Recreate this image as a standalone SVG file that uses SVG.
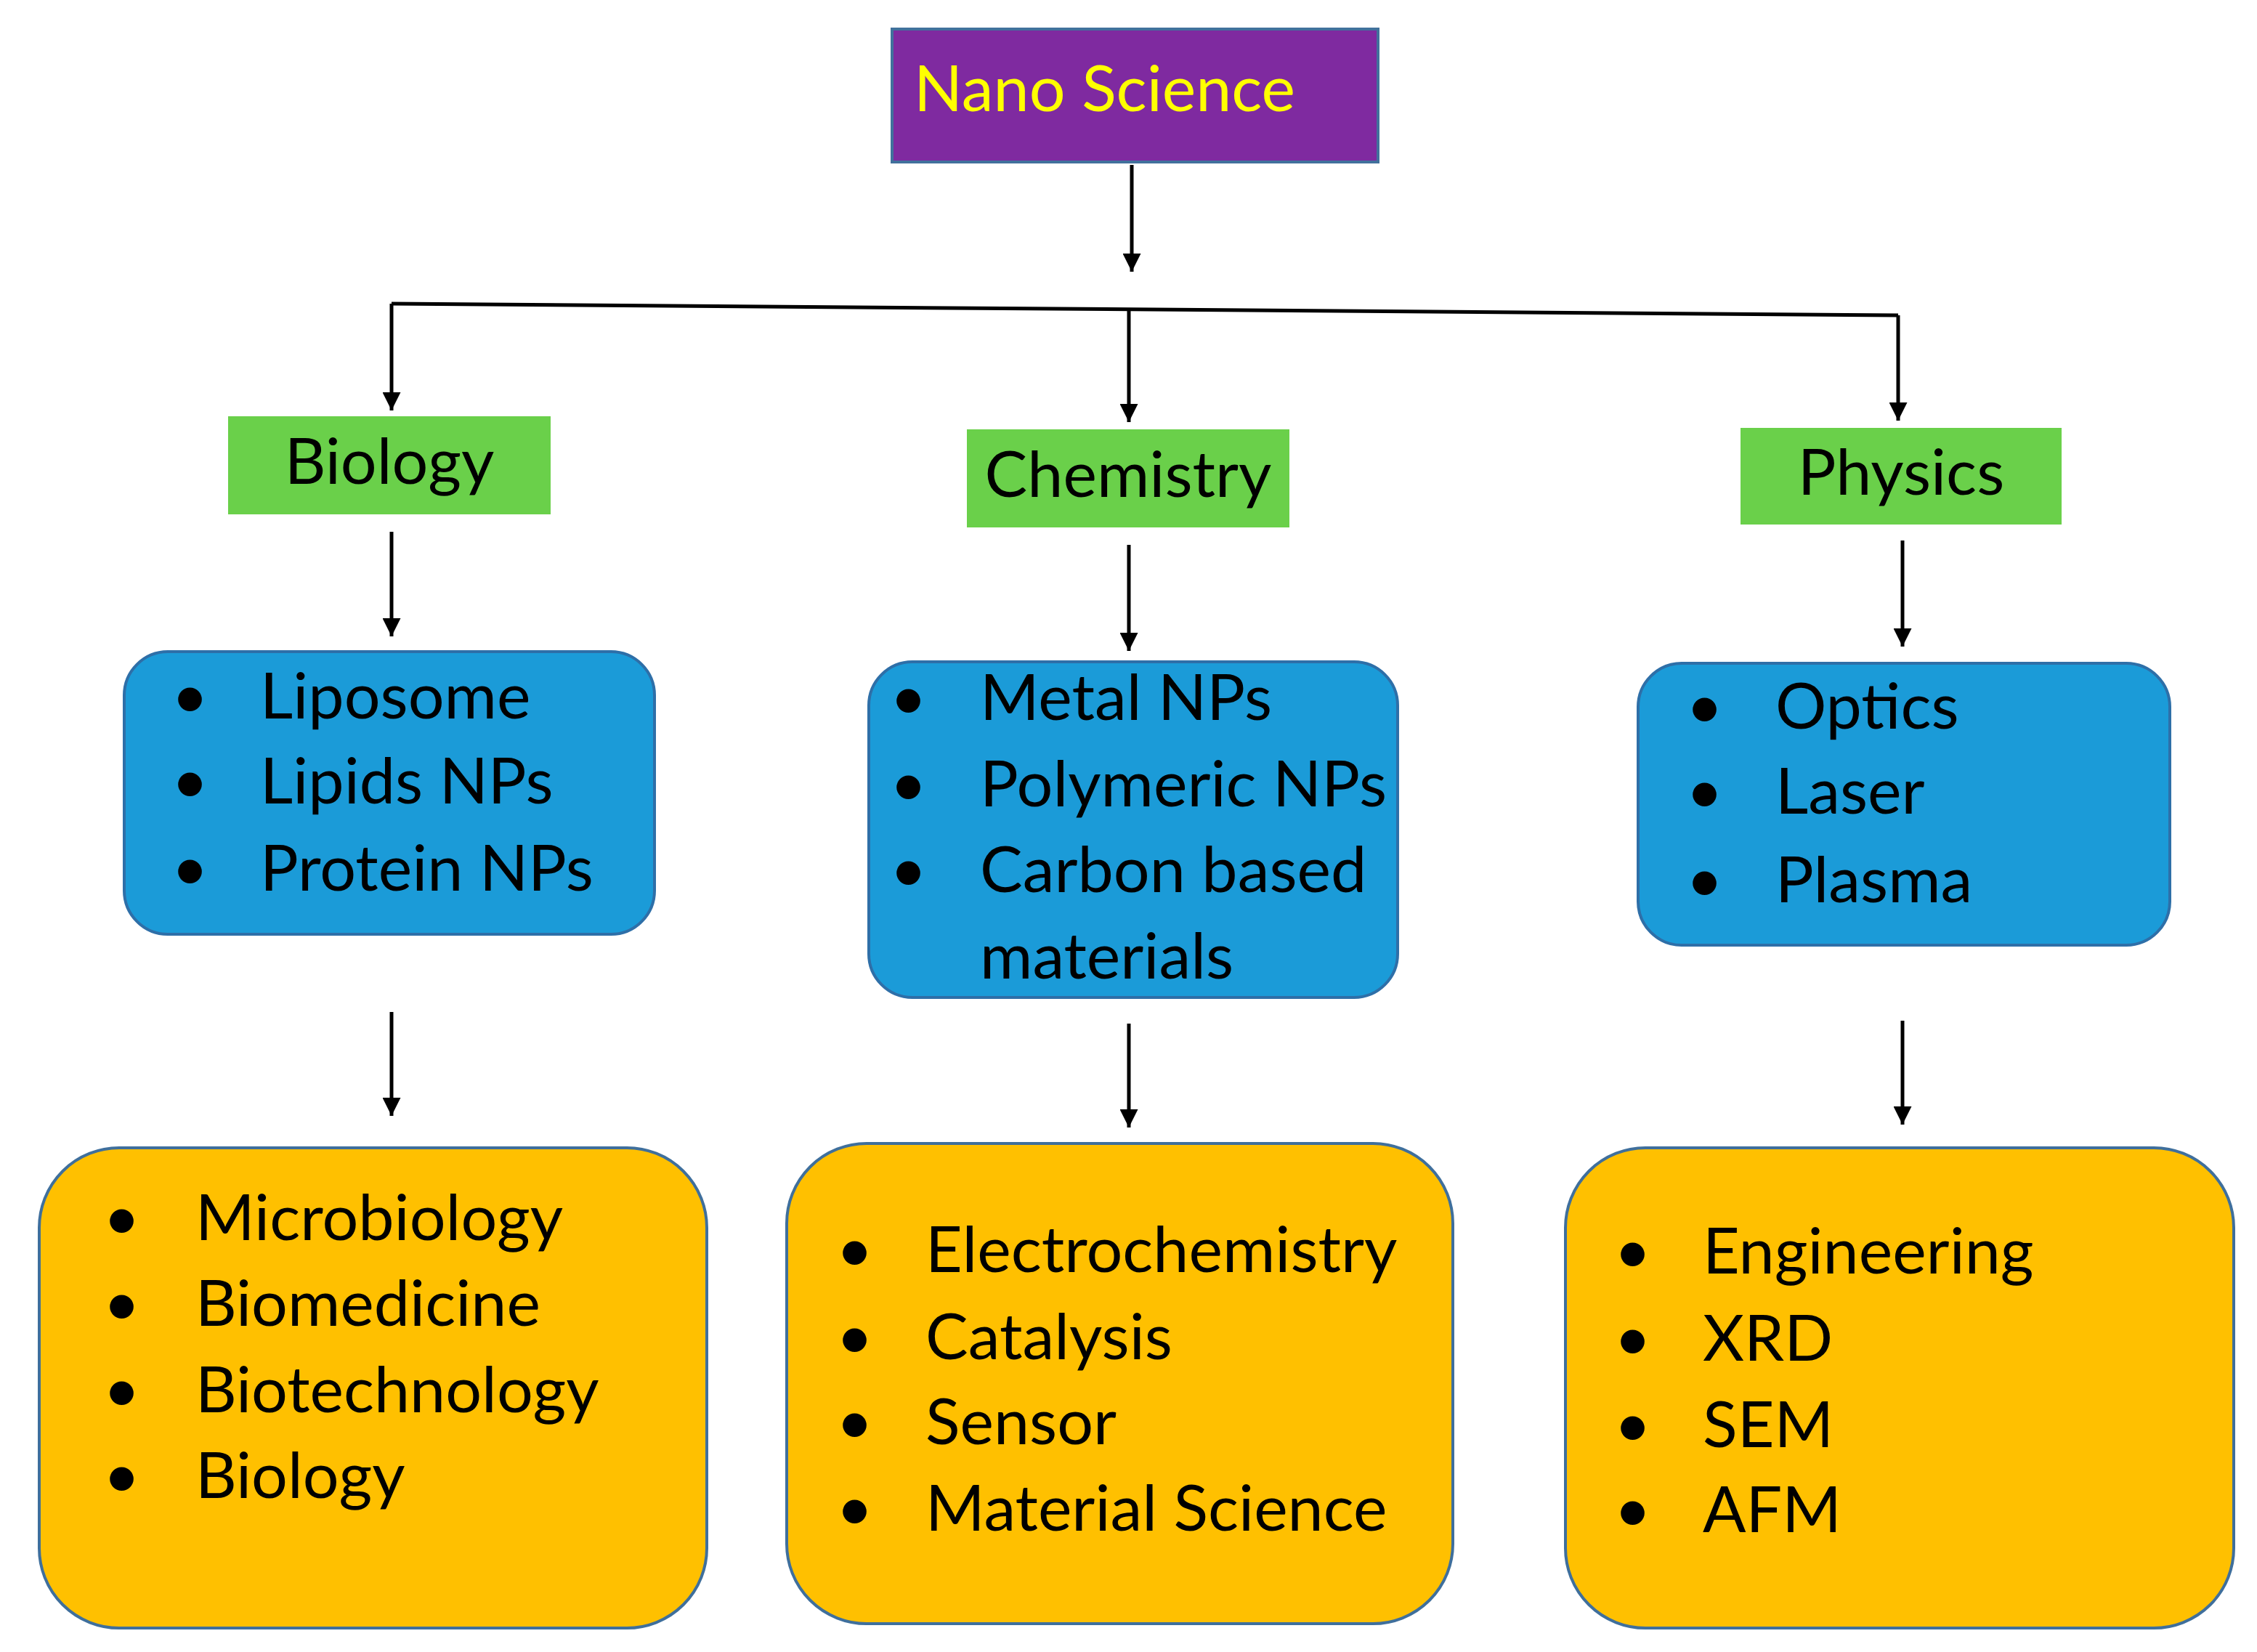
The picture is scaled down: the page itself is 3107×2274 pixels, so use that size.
<svg xmlns="http://www.w3.org/2000/svg" width="3107" height="2274" viewBox="0 0 3107 2274">
<style>
text{font-family:Lato,"Open Sans","Liberation Sans",sans-serif;font-size:88px;fill:#000}
.g{fill:#6ad04a}
.b{fill:#1b9bd8;stroke:#2e6fa8;stroke-width:4}
.o{fill:#ffc000;stroke:#3f6f9c;stroke-width:4}
.c line,.c path{stroke:#000;stroke-width:5;fill:none}
</style>
<defs><marker id="a" viewBox="0 0 10 10" refX="10" refY="5" markerWidth="5" markerHeight="5" orient="auto"><path d="M0,0L10,5L0,10z" fill="#000"/></marker></defs>
<g class="c">
<line x1="1558" y1="227" x2="1558" y2="374" marker-end="url(#a)"/>
<path d="M539,418L2613,434"/>
<line x1="539" y1="418" x2="539" y2="565" marker-end="url(#a)"/>
<line x1="1554" y1="426" x2="1554" y2="581" marker-end="url(#a)"/>
<line x1="2613" y1="434" x2="2613" y2="579" marker-end="url(#a)"/>
<line x1="539" y1="732" x2="539" y2="876" marker-end="url(#a)"/>
<line x1="1554" y1="750" x2="1554" y2="896" marker-end="url(#a)"/>
<line x1="2619" y1="744" x2="2619" y2="890" marker-end="url(#a)"/>
<line x1="539" y1="1393" x2="539" y2="1536" marker-end="url(#a)"/>
<line x1="1554" y1="1409" x2="1554" y2="1552" marker-end="url(#a)"/>
<line x1="2619" y1="1405" x2="2619" y2="1548" marker-end="url(#a)"/>
</g>
<g id="nano"><rect x="1228" y="40" width="669" height="183" fill="#7f2aa0" stroke="#41719c" stroke-width="4"/><text x="1258" y="153" style="fill:#ffff00">Nano Science</text></g>
<g id="biology"><rect class="g" x="314" y="573" width="444" height="135"/><text x="536" y="666" text-anchor="middle">Biology</text></g>
<g id="chemistry"><rect class="g" x="1331" y="591" width="444" height="135"/><text x="1553" y="684" text-anchor="middle">Chemistry</text></g>
<g id="physics"><rect class="g" x="2396" y="589" width="442" height="133"/><text x="2617" y="681" text-anchor="middle">Physics</text></g>
<g id="bio-np"><rect class="b" x="171" y="897" width="730" height="389" rx="60"/>
<text x="236" y="989">•</text><text x="358" y="989">Liposome</text>
<text x="236" y="1106">•</text><text x="358" y="1106">Lipids NPs</text>
<text x="236" y="1226">•</text><text x="358" y="1226">Protein NPs</text></g>
<g id="chem-np"><rect class="b" x="1196" y="911" width="728" height="462" rx="60"/>
<text x="1225" y="991">•</text><text x="1349" y="991">Metal NPs</text>
<text x="1225" y="1110">•</text><text x="1349" y="1110">Polymeric NPs</text>
<text x="1225" y="1228">•</text><text x="1349" y="1228">Carbon based</text>
<text x="1349" y="1347">materials</text></g>
<g id="phys-np"><rect class="b" x="2255" y="913" width="732" height="388" rx="60"/>
<text x="2321" y="1003">•</text><text x="2444" y="1003">Optics</text>
<text x="2321" y="1120">•</text><text x="2444" y="1120">Laser</text>
<text x="2321" y="1242">•</text><text x="2444" y="1242">Plasma</text></g>
<g id="bio-app"><rect class="o" x="54" y="1580" width="919" height="661" rx="110"/>
<text x="142" y="1707">•</text><text x="269" y="1707">Microbiology</text>
<text x="142" y="1825">•</text><text x="269" y="1825">Biomedicine</text>
<text x="142" y="1944">•</text><text x="269" y="1944">Biotechnology</text>
<text x="142" y="2062">•</text><text x="269" y="2062">Biology</text></g>
<g id="chem-app"><rect class="o" x="1083" y="1574" width="917" height="661" rx="110"/>
<text x="1151" y="1751">•</text><text x="1274" y="1751">Electrochemistry</text>
<text x="1151" y="1871">•</text><text x="1274" y="1871">Catalysis</text>
<text x="1151" y="1988">•</text><text x="1274" y="1988">Sensor</text>
<text x="1151" y="2107">•</text><text x="1274" y="2107">Material Science</text></g>
<g id="phys-app"><rect class="o" x="2155" y="1580" width="920" height="661" rx="110"/>
<text x="2222" y="1753">•</text><text x="2344" y="1753">Engineering</text>
<text x="2222" y="1873">•</text><text x="2344" y="1873">XRD</text>
<text x="2222" y="1992">•</text><text x="2344" y="1992">SEM</text>
<text x="2222" y="2109">•</text><text x="2344" y="2109">AFM</text></g>
</svg>
